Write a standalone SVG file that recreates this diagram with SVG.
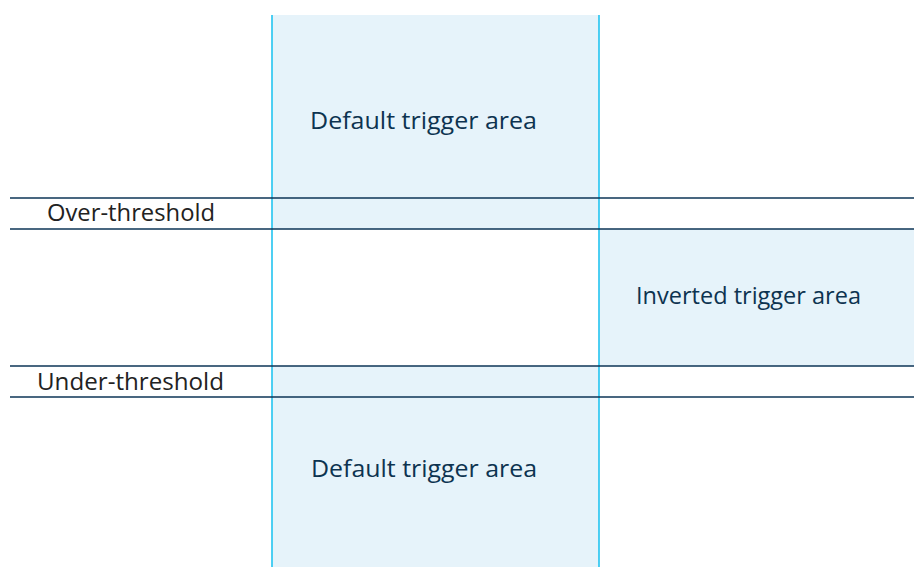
<svg xmlns="http://www.w3.org/2000/svg" width="914" height="567" viewBox="0 0 914 567">
  <style>
    .area { fill: #e6f3fa; stroke: none; }
    .vline { stroke: #22c4f0; stroke-width: 1.6; fill: none; }
    .hline { stroke: #0c3556; stroke-width: 1.3; fill: none; }
    .lbl { font-family: "Open Sans", "Noto Sans", "Liberation Sans", sans-serif; font-size: 23px; fill: #0d3350; text-anchor: middle; }
    .thr { font-family: "Open Sans", "Noto Sans", "Liberation Sans", sans-serif; font-size: 23px; fill: #222222; text-anchor: middle; }
  </style>
  <rect width="914" height="567" fill="#ffffff"/>
  <g id="default-top">
    <rect class="area" x="272" y="15" width="327" height="214"/>
    <text class="lbl" x="423.5" y="129" textLength="227" lengthAdjust="spacingAndGlyphs">Default trigger area</text>
  </g>
  <g id="inverted">
    <rect class="area" x="599" y="229" width="315" height="137"/>
    <text class="lbl" x="748.5" y="304" textLength="225" lengthAdjust="spacingAndGlyphs">Inverted trigger area</text>
  </g>
  <g id="default-bottom">
    <rect class="area" x="272" y="366" width="327" height="201"/>
    <text class="lbl" x="424" y="477" textLength="226" lengthAdjust="spacingAndGlyphs">Default trigger area</text>
  </g>
  <g id="over-threshold">
    <text class="thr" x="131" y="221" textLength="168" lengthAdjust="spacingAndGlyphs">Over-threshold</text>
  </g>
  <g id="under-threshold">
    <text class="thr" x="130.5" y="390" textLength="187" lengthAdjust="spacingAndGlyphs">Under-threshold</text>
  </g>
  <g id="lines">
    <line class="vline" x1="272" y1="15" x2="272" y2="567"/>
    <line class="vline" x1="599" y1="15" x2="599" y2="567"/>
    <line class="hline" x1="10" y1="198" x2="914" y2="198"/>
    <line class="hline" x1="10" y1="229" x2="914" y2="229"/>
    <line class="hline" x1="10" y1="366" x2="914" y2="366"/>
    <line class="hline" x1="10" y1="397" x2="914" y2="397"/>
  </g>
</svg>
